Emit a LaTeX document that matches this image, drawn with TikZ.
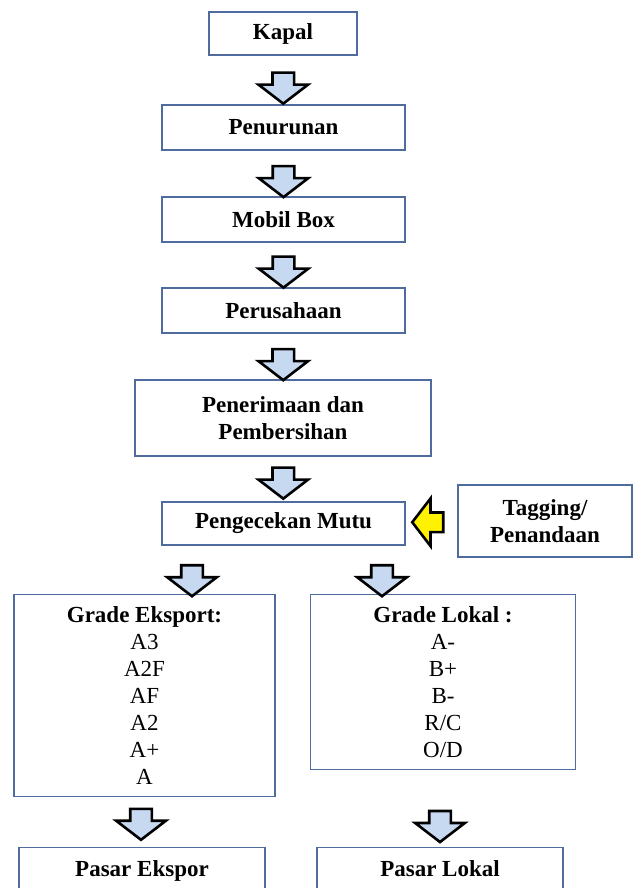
\documentclass[tikz,border=0pt]{standalone}
\usepackage{fontspec}
\setmainfont{Liberation Serif}
\usetikzlibrary{shapes.arrows,calc}
\definecolor{boxline}{RGB}{80,108,158}
\definecolor{arrowfill}{RGB}{198,217,241}
\newcommand{\flowfont}{\fontsize{23}{27}\selectfont}
\tikzset{
  flowbox/.style={draw=boxline,line width=1.2pt,rectangle,minimum width=243pt,minimum height=45pt,align=center,font=\flowfont\bfseries},
  gradebox/.style={draw=boxline,line width=1.2pt,rectangle,anchor=north,align=center,inner ysep=12pt,font=\flowfont},
  blockarrow/.style={single arrow,draw=black,line width=2.6pt,inner sep=9.5pt,minimum height=31pt,single arrow head extend=14pt,single arrow tip angle=105},
  downarrow/.style={blockarrow,shape border rotate=270,fill=arrowfill},
  leftarrow/.style={blockarrow,shape border rotate=180,fill=yellow,inner sep=8.5pt}
}
\begin{document}
\begin{tikzpicture}[x=1pt,y=-1pt]
\useasboundingbox (0,0) rectangle (636,888);
\clip (0,0) rectangle (636,888); %bottom boxes run off the page

%main column
\node[flowbox,minimum width=148pt,minimum height=43pt] (kapal) at (283,33.5) {Kapal};
\node[flowbox] (penurunan) at (283.5,127.5) {Penurunan};
\node[flowbox] (mobil) at (283.5,219.5) {Mobil Box};
\node[flowbox] (perusahaan) at (283.5,310.5) {Perusahaan};
\node[flowbox,minimum width=296pt,minimum height=76pt] (penerimaan) at (283,418) {Penerimaan dan\\Pembersihan};
\node[flowbox,minimum height=43pt] (pengecekan) at (283.5,523.5) {Pengecekan Mutu};
\node[flowbox,minimum width=174pt,minimum height=72pt] (tagging) at (545,521) {Tagging/\\Penandaan}; %side box

%grade boxes
\node[gradebox,minimum width=261pt] (eksport) at (144.5,594) {\textbf{Grade Eksport:}\\A3\\A2F\\AF\\A2\\A+\\A};
\node[gradebox,minimum width=265pt] (lokal) at (443,594) {\textbf{Grade Lokal :}\\A-\\B+\\B-\\R/C\\O/D};

%markets
\node[flowbox,anchor=north,minimum width=246pt,minimum height=46pt,text height=16pt,text depth=5pt] (pasarekspor) at (142,847) {Pasar Ekspor};
\node[flowbox,anchor=north,minimum width=246pt,minimum height=46pt,text height=16pt,text depth=5pt] (pasarlokal) at (440,847) {Pasar Lokal};

%block arrows
\node[downarrow] (a1) at ($(kapal.south)!.5!(penurunan.north)+(0,4)$) {};
\node[downarrow] (a2) at ($(penurunan.south)!.5!(mobil.north)+(0,4)$) {};
\node[downarrow] (a3) at ($(mobil.south)!.5!(perusahaan.north)+(0,3)$) {};
\node[downarrow] (a4) at ($(perusahaan.south)!.5!(penerimaan.north)+(0,4)$) {};
\node[downarrow] (a5) at ($(penerimaan.south)!.5!(pengecekan.north)$) {};
\node[leftarrow] (a6) at ($(pengecekan.east)!.5!(tagging.west)$) {}; %tagging arrow
\node[downarrow] (a7) at ($(pengecekan.south)+(-91.5,31)$) {};
\node[downarrow] (a8) at ($(pengecekan.south)+(98.5,31)$) {};
\node[downarrow] (a9) at ($(eksport.south)+(-3.5,23)$) {};
\node[downarrow] (a10) at ($(lokal.south)+(-3,52)$) {};
\end{tikzpicture}
\end{document}
